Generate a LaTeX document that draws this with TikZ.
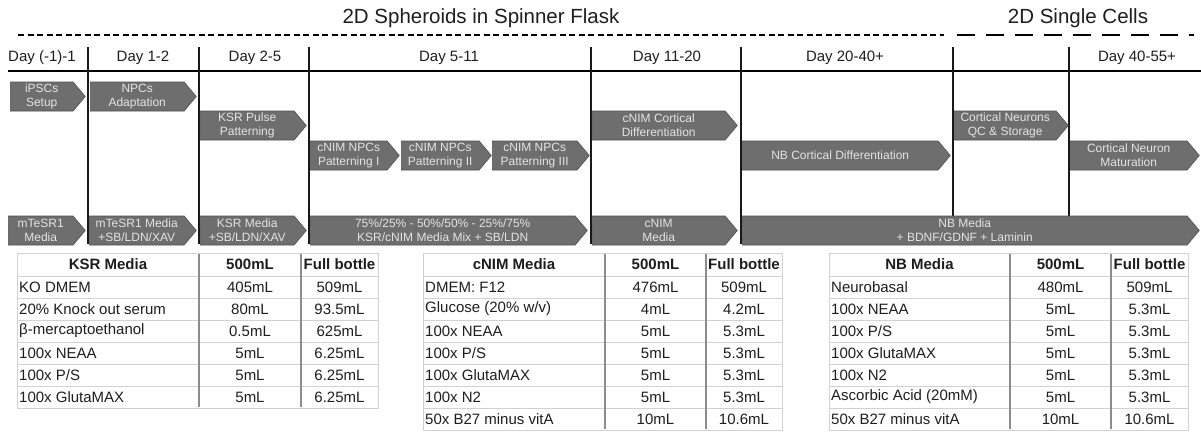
\documentclass[tikz,border=0pt]{standalone}
\usepackage{fontspec}
\setmainfont{Liberation Sans}
\usetikzlibrary{shapes.symbols}

\definecolor{stagefill}{HTML}{6E6E6E}
\definecolor{stageedge}{HTML}{505050}
\definecolor{stagetext}{HTML}{E4E4E4}
\definecolor{rowgray}{HTML}{D2D2D2}
\definecolor{colgray}{HTML}{8C8C8C}
\definecolor{inkgray}{HTML}{1E1E1E}

% Media composition table:
% #1 name prefix, #2 left edge, #3 first divider, #4 second divider,
% #5 right edge, #6 heading, #7 number of rows, #8 rows (label/500mL/full bottle)
\newcommand\mediatable[8]{%
  \pgfmathsetmacro\tabbottom{276+22*#7}
  \node[headcell] (#1-h1) at ({(#2+#3)/2},264.5) {#6};
  \node[headcell] (#1-h2) at ({(#3+#4)/2},264.5) {500mL};
  \node[headcell] (#1-h3) at ({(#4+#5)/2},264.5) {Full bottle};
  \draw[rowrule] (#2,276) -- (#5,276);
  \foreach \lab/\va/\vb [count=\i] in {#8} {
    \node[bodycell, anchor=west] (#1-\i-a) at (#2+2,276+22*\i-11) {\lab};
    \node[bodycell] (#1-\i-b) at ({(#3+#4)/2},276+22*\i-11) {\va};
    \node[bodycell] (#1-\i-c) at ({(#4+#5)/2},276+22*\i-11) {\vb};
    \draw[rowrule] (#2,276+22*\i) -- (#5,276+22*\i);
  }
  \draw[rowrule] (#2,253) rectangle (#5,\tabbottom);
  \draw[colrule] (#3,254) -- (#3,\tabbottom-1);
  \draw[colrule] (#4,254) -- (#4,\tabbottom-1);
}

\begin{document}
\begin{tikzpicture}[x=1pt,y=-1pt,
  stagebox/.style={shape=signal, signal to=east, signal pointer angle=100,
    fill=stagefill, draw=stageedge, line width=0.6pt, text=stagetext,
    font=\fontsize{12}{14}\selectfont, align=center, inner sep=0pt,
    anchor=west, minimum height=29pt},
  daylabel/.style={font=\fontsize{15}{17}\selectfont, text=inkgray, inner sep=0pt},
  phaselabel/.style={font=\fontsize{20.5}{23}\selectfont, text=inkgray, inner sep=0pt},
  dayrule/.style={line width=2pt, draw=black!90},
  headcell/.style={font=\fontsize{15}{17}\selectfont\bfseries, text=inkgray, inner sep=0pt},
  bodycell/.style={font=\fontsize{15}{17}\selectfont, text=inkgray, inner sep=0pt},
  rowrule/.style={draw=rowgray, line width=0.9pt},
  colrule/.style={draw=colgray, line width=1.4pt}]

\useasboundingbox[fill=white] (0,0) rectangle (1201,431);

% culture phases
\node[phaselabel] (spheroids) at (481,18.5) {2D Spheroids in Spinner Flask};
\node[phaselabel] (single) at (1078,18.5) {2D Single Cells};
\draw[line width=2pt, dash pattern=on 6pt off 3.5pt] (18,35) -- (944,35);
\draw[line width=2pt, dash pattern=on 18pt off 11pt] (957,35) -- (1194,35);

% timeline
\draw[line width=2.6pt] (8,71) -- (1201,71);
\foreach \x/\yb in {88/244, 199/244, 309/244, 591/244, 741/244, 953/216, 1069/216}
  \draw[dayrule] (\x,47) -- (\x,\yb);

\node[daylabel] (d1) at (42,58) {Day (-1)-1};
\node[daylabel] (d2) at (143,58) {Day 1-2};
\node[daylabel] (d3) at (255,58) {Day 2-5};
\node[daylabel] (d4) at (449,58) {Day 5-11};
\node[daylabel] (d5) at (667,58) {Day 11-20};
\node[daylabel] (d6) at (845,58) {Day 20-40+};
\node[daylabel] (d7) at (1137,58) {Day 40-55+};

% protocol stages
\node[stagebox, minimum width=75pt] (s1) at (10,96.5) {iPSCs\\Setup};
\node[stagebox, minimum width=106pt] (s2) at (90,96.5) {NPCs\\Adaptation};
\node[stagebox, minimum width=106pt] (s3) at (200,125.5) {KSR Pulse\\Patterning};
\node[stagebox, minimum width=89pt] (s4) at (310,155.5) {cNIM NPCs\\Patterning I};
\node[stagebox, minimum width=90pt] (s5) at (401,155.5) {cNIM NPCs\\Patterning II};
\node[stagebox, minimum width=97pt] (s6) at (492,155.5) {cNIM NPCs\\Patterning III};
\node[stagebox, minimum width=145pt] (s7) at (592,125.5) {cNIM Cortical\\Differentiation};
\node[stagebox, minimum width=208pt] (s8) at (742,155.5) {NB Cortical Differentiation};
\node[stagebox, minimum width=114pt] (s9) at (954,125.5) {Cortical Neurons\\QC \& Storage};
\node[stagebox, minimum width=129pt] (s10) at (1070,155.5) {Cortical Neuron\\Maturation};

% culture media
\node[stagebox, minimum width=77pt] (m1) at (8,230.5) {mTeSR1\\Media};
\node[stagebox, minimum width=107pt] (m2) at (89,230.5) {mTeSR1 Media\\+SB/LDN/XAV};
\node[stagebox, minimum width=106pt] (m3) at (200,230.5) {KSR Media\\+SB/LDN/XAV};
\node[stagebox, minimum width=277pt] (m4) at (310,230.5) {75\%/25\% - 50\%/50\% - 25\%/75\%\\KSR/cNIM Media Mix + SB/LDN};
\node[stagebox, minimum width=145pt] (m5) at (592,230.5) {cNIM\\Media};
\node[stagebox, minimum width=457pt] (m6) at (742,230.5) {NB Media\\+ BDNF/GDNF + Laminin};

% media recipes
\mediatable{ksr}{17}{199}{301}{378}{KSR Media}{6}{%
  KO DMEM/405mL/509mL,
  20\% Knock out serum/80mL/93.5mL,
  β-mercaptoethanol/0.5mL/625mL,
  100x NEAA/5mL/6.25mL,
  {100x P/S}/5mL/6.25mL,
  100x GlutaMAX/5mL/6.25mL}

\mediatable{cnim}{423}{605}{706}{782}{cNIM Media}{7}{%
  DMEM: F12/476mL/509mL,
  {Glucose (20\% w/v)}/4mL/4.2mL,
  100x NEAA/5mL/5.3mL,
  {100x P/S}/5mL/5.3mL,
  100x GlutaMAX/5mL/5.3mL,
  100x N2/5mL/5.3mL,
  50x B27 minus vitA/10mL/10.6mL}

\mediatable{nb}{829}{1010}{1111}{1188}{NB Media}{7}{%
  Neurobasal/480mL/509mL,
  100x NEAA/5mL/5.3mL,
  {100x P/S}/5mL/5.3mL,
  100x GlutaMAX/5mL/5.3mL,
  100x N2/5mL/5.3mL,
  Ascorbic Acid (20mM)/5mL/5.3mL,
  50x B27 minus vitA/10mL/10.6mL}

\end{tikzpicture}
\end{document}
